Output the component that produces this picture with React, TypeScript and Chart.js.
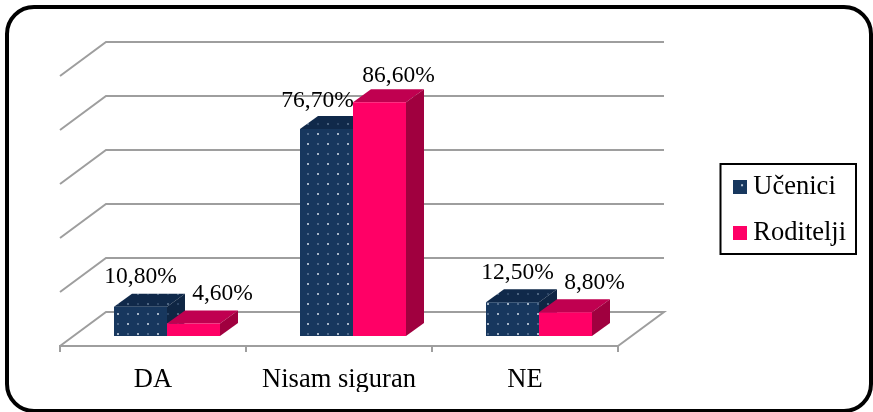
import React, { useEffect, useRef } from "react";
import { Chart, registerables } from "chart.js";

Chart.register(...registerables);

const categories = ["DA", "Nisam siguran", "NE"];
const seriesNames = ["Učenici", "Roditelji"];
const ucenici = [10.8, 76.7, 12.5];
const roditelji = [4.6, 86.6, 8.8];

const SERIF = '"Liberation Serif", "Times New Roman", serif';
const GRID = "#9e9e9e";
const DEPTH_WALL = { dx: 46, dy: -34 };
const DEPTH_BAR = { dx: 18, dy: -13 };
const BAR_SHIFT = { dx: 14, dy: -10 };
// label nudges relative to bar centre / top
const NUDGE = [
  [[0, -30], [-9, -28], [5, -29]],
  [[29, -30], [19, -26], [29, -29]],
];
const PINK = { front: "#ff0066", top: "#c00050", side: "#a0003f" };
let faceFills: any[] = [];

function dotted(base: string, bright: string, dim: string) {
  const c = document.createElement("canvas");
  c.width = 20;
  c.height = 20;
  const g = c.getContext("2d")!;
  g.fillStyle = base;
  g.fillRect(0, 0, 20, 20);
  g.fillStyle = bright;
  g.fillRect(3, 3, 2, 2);
  g.fillRect(13, 13, 2, 2);
  g.fillStyle = dim;
  g.fillRect(13, 3, 2, 2);
  g.fillRect(3, 13, 2, 2);
  return g.createPattern(c, "repeat")!;
}

function swatch(fill: string, star: boolean) {
  const c = document.createElement("canvas");
  c.width = 14;
  c.height = 14;
  const g = c.getContext("2d")!;
  g.fillStyle = fill;
  g.fillRect(0, 0, 14, 14);
  if (star) {
    g.fillStyle = "#b9c6d6";
    g.fillRect(8, 4, 2, 2);
  }
  return c;
}

function poly(ctx: CanvasRenderingContext2D, pts: number[][], fill: any) {
  ctx.fillStyle = fill;
  ctx.beginPath();
  pts.forEach(([x, y], i) => (i ? ctx.lineTo(x, y) : ctx.moveTo(x, y)));
  ctx.closePath();
  ctx.fill();
}

const frame3d = {
  id: "frame3d",
  beforeLayout(chart: any) {
    const lg = chart.legend;
    if (lg && !lg.$wrapped) {
      lg.$wrapped = true;
      const fit = lg.fit;
      lg.fit = function () {
        fit.call(this);
        this.width = 0;
        this.height = 0;
      };
    }
  },
  afterLayout(chart: any) {
    const lg = chart.legend;
    lg.left = 721;
    lg.right = 856;
    lg.top = 155;
    lg.bottom = 340;
    lg.width = 135;
    lg.height = 185;
  },
  beforeDraw(chart: any) {
    const ctx = chart.ctx;
    ctx.save();
    ctx.fillStyle = "#fff";
    ctx.fillRect(0, 0, chart.width, chart.height);
    ctx.strokeStyle = "#000";
    ctx.lineWidth = 4;
    ctx.beginPath();
    ctx.roundRect(7, 7, 864, 404, 27);
    ctx.stroke();
    ctx.restore();
  },
  beforeDatasetsDraw(chart: any) {
    const { ctx, chartArea: a, scales } = chart;
    const wall = DEPTH_WALL;
    ctx.save();
    ctx.strokeStyle = GRID;
    ctx.lineWidth = 2;
    for (const t of scales.y.ticks) {
      const y = scales.y.getPixelForValue(t.value);
      ctx.beginPath();
      ctx.moveTo(a.left, y);
      ctx.lineTo(a.left + wall.dx, y + wall.dy);
      ctx.lineTo(a.right + wall.dx, y + wall.dy);
      if (t.value === 0) ctx.lineTo(a.right, y);
      ctx.stroke();
    }
    ctx.restore();

    // Left series first, so that the right series sits in front of its side face.
    const { dx, dy } = DEPTH_BAR;
    chart.data.datasets.forEach((_: any, d: number) => {
      const meta = chart.getDatasetMeta(d);
      const col = faceFills[d];
      ctx.save();
      ctx.translate(BAR_SHIFT.dx, BAR_SHIFT.dy);
      for (const el of meta.data) {
        const l = el.x - el.width / 2;
        const r = el.x + el.width / 2;
        poly(ctx, [[l, el.y], [l + dx, el.y + dy], [r + dx, el.y + dy], [r, el.y]], col.top);
        poly(ctx, [[r, el.y], [r + dx, el.y + dy], [r + dx, el.base + dy], [r, el.base]], col.side);
      }
      meta.controller.draw();
      ctx.restore();
    });

    ctx.save();
    ctx.font = `23.5px ${SERIF}`;
    ctx.fillStyle = "#000";
    ctx.textAlign = "center";
    ctx.textBaseline = "middle";
    chart.data.datasets.forEach((ds: any, d: number) => {
      chart.getDatasetMeta(d).data.forEach((el: any, i: number) => {
        const text = ds.data[i].toFixed(2).replace(".", ",") + "%";
        const [nx, ny] = NUDGE[d][i];
        ctx.fillText(text, el.x + BAR_SHIFT.dx + nx, el.y + BAR_SHIFT.dy + ny);
      });
    });
    ctx.restore();
    return false;
  },
  afterDraw(chart: any) {
    const ctx = chart.ctx;
    ctx.save();
    ctx.strokeStyle = "#000";
    ctx.lineWidth = 2;
    ctx.strokeRect(720.5, 164, 135.5, 90);
    ctx.restore();
  },
};

export default function App() {
  const ref = useRef<HTMLCanvasElement>(null);
  useEffect(() => {
    const blue = dotted("#17375e", "#a9b8ca", "#4d6788");
    faceFills = [
      { top: dotted("#10294a", "#4d6480", "#2c4565"), side: dotted("#0f2644", "#4d6480", "#2c4565") },
      PINK,
    ];
    const swatches = [swatch("#17375e", true), swatch("#ff0066", false)];
    const chart: any = new Chart(ref.current!, {
      type: "bar",
      data: {
        labels: categories,
        datasets: [
          { label: seriesNames[0], data: ucenici, backgroundColor: blue as any },
          { label: seriesNames[1], data: roditelji, backgroundColor: PINK.front },
        ],
      },
      options: {
        animation: false,
        responsive: false,
        events: [],
        layout: { padding: { left: 60, top: 76, right: 255, bottom: 20 } },
        datasets: { bar: { barPercentage: 1, categoryPercentage: 106 / 186 } },
        plugins: {
          title: { display: false },
          tooltip: { enabled: false },
          legend: {
            display: true,
            position: "right",
            align: "start",
            labels: {
              color: "#000",
              font: { family: SERIF, size: 26.5 },
              usePointStyle: true,
              pointStyleWidth: 0.1,
              padding: 19,
              generateLabels: (c: any) =>
                Chart.defaults.plugins.legend.labels
                  .generateLabels(c)
                  .map((it: any, i: number) => ({ ...it, pointStyle: swatches[i] })),
            },
          },
        },
        scales: {
          x: {
            afterFit: (s: any) => { s.height = 46; },
            border: { display: true, color: GRID, width: 2 },
            grid: { drawOnChartArea: false, drawTicks: true, tickLength: 6, color: GRID, lineWidth: 2, offset: true },
            ticks: { color: "#000", font: { family: SERIF, size: 26.5 }, padding: 12, maxRotation: 0 },
          },
          y: {
            min: 0,
            max: 100,
            afterFit: (s: any) => { s.width = 0; },
            border: { display: false },
            grid: { display: false },
            ticks: { display: false, stepSize: 20 },
          },
        },
      } as any,
      plugins: [frame3d],
    });
    return () => chart.destroy();
  }, []);
  return (
    <canvas
      ref={ref}
      width={873}
      height={412}
      style={{ position: "absolute", left: 0, top: 0, width: 873, height: 412, display: "block" }}
    />
  );
}
